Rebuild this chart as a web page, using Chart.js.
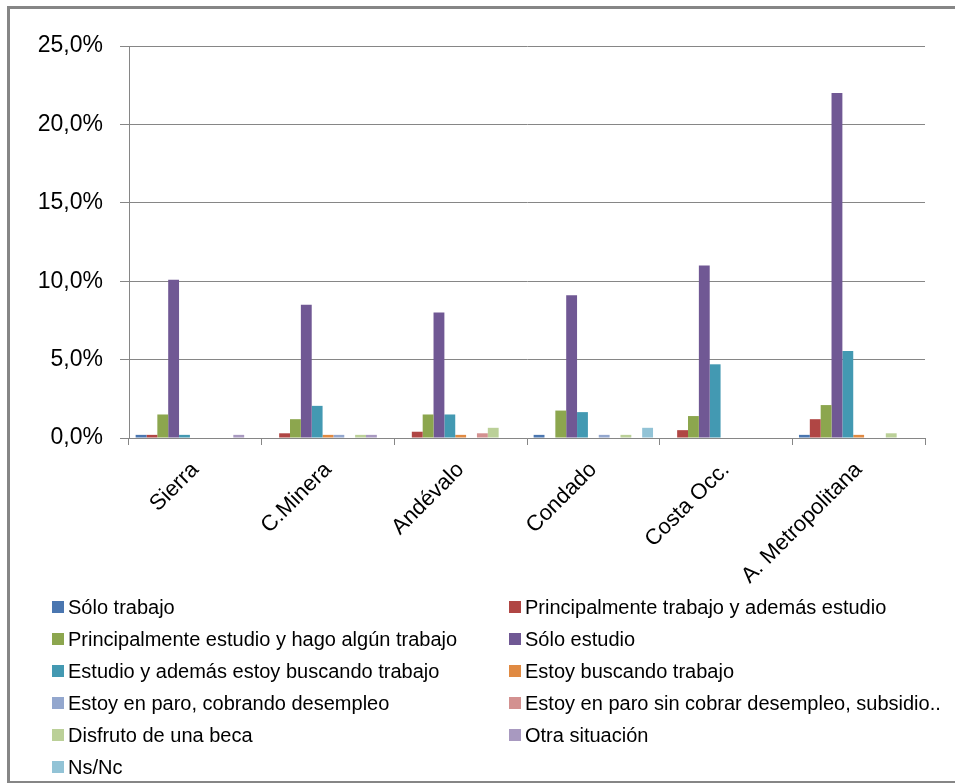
<!DOCTYPE html>
<html>
<head>
<meta charset="utf-8">
<script src="https://cdn.jsdelivr.net/npm/chart.js@4.4.1/dist/chart.umd.min.js"></script>
<style>
  html, body { margin: 0; padding: 0; background: #fff; }
  #wrap { position: relative; width: 955px; height: 783px; overflow: hidden; background: #fff; }
  #frame {
    position: absolute; left: 7px; top: 6px; width: 960px; height: 772px;
    border: 3px solid #868686; box-sizing: content-box;
  }
  #chart { position: absolute; left: 0; top: 0; }
  #legend {
    position: absolute; left: 52px; top: 595px;
    display: grid; grid-template-columns: 457px 420px; grid-auto-rows: 32px;
    font-family: "Liberation Sans", sans-serif;
    font-size: 20px; color: #000;
  }
  .item { display: flex; align-items: center; height: 24px; white-space: nowrap; }
  .box { width: 12px; height: 12px; margin-right: 4px; flex: none; }
</style>
</head>
<body>
<div id="wrap">
  <div id="frame"></div>
  <canvas id="chart" width="955" height="783"></canvas>
  <div id="legend"></div>
</div>
<script>
/* =========================
   DATA (% of respondents)
========================= */
const zones = ["Sierra", "C.Minera", "Andévalo", "Condado", "Costa Occ.", "A. Metropolitana"];

const soloTrabajo        = [0.2, 0.0, 0.0, 0.2, 0.0, 0.2];
const trabajoYEstudio    = [0.2, 0.3, 0.4, 0.0, 0.5, 1.2];
const estudioYTrabajo    = [1.5, 1.2, 1.5, 1.75, 1.4, 2.1];
const soloEstudio        = [10.1, 8.5, 8.0, 9.1, 11.0, 22.0];
const estudioBuscando    = [0.2, 2.05, 1.5, 1.65, 4.7, 5.55];
const buscandoTrabajo    = [0.0, 0.2, 0.2, 0.0, 0.0, 0.2];
const paroCobrando       = [0.0, 0.2, 0.0, 0.2, 0.0, 0.0];
const paroSinCobrar      = [0.0, 0.0, 0.3, 0.0, 0.0, 0.0];
const beca               = [0.0, 0.2, 0.65, 0.2, 0.0, 0.3];
const otraSituacion      = [0.2, 0.2, 0.0, 0.0, 0.0, 0.0];
const nsNc               = [0.0, 0.0, 0.0, 0.65, 0.0, 0.0];

const seriesNames = [
  "Sólo trabajo",
  "Principalmente trabajo y además estudio",
  "Principalmente estudio y hago algún trabajo",
  "Sólo estudio",
  "Estudio y además estoy buscando trabajo",
  "Estoy buscando trabajo",
  "Estoy en paro, cobrando desempleo",
  "Estoy en paro sin cobrar desempleo, subsidio..",
  "Disfruto de una beca",
  "Otra situación",
  "Ns/Nc"
];
const seriesValues = [
  soloTrabajo, trabajoYEstudio, estudioYTrabajo, soloEstudio, estudioBuscando,
  buscandoTrabajo, paroCobrando, paroSinCobrar, beca, otraSituacion, nsNc
];
const seriesColors = [
  "#4A76B0", "#B04644", "#8CA64E", "#705894", "#4399B2", "#E08A42",
  "#93A7CE", "#D39190", "#BBD098", "#A899C0", "#92C3D6"
];

const yTicks = [0, 5, 10, 15, 20, 25];

/* =========================
   CHART
========================= */
const AXIS_GREY = "#868686";

new Chart(document.getElementById("chart"), {
  type: "bar",
  data: {
    labels: zones,
    datasets: seriesNames.map((name, i) => ({
      label: name,
      data: seriesValues[i],
      backgroundColor: seriesColors[i],
      borderWidth: 0,
      categoryPercentage: 0.9,
      barPercentage: 1.0
    }))
  },
  options: {
    responsive: false,
    animation: false,
    layout: { padding: { top: 46, right: 30, left: 0, bottom: 0 } },
    plugins: {
      legend: { display: false },
      tooltip: { enabled: false }
    },
    scales: {
      x: {
        grid: { drawOnChartArea: false, color: AXIS_GREY, tickLength: 7, offset: true },
        border: { color: AXIS_GREY },
        ticks: {
          color: "#000",
          font: { family: "Liberation Sans", size: 22 },
          minRotation: 45,
          maxRotation: 45,
          padding: 12
        },
        afterFit: scale => { scale.height = 345; }
      },
      y: {
        min: yTicks[0],
        max: yTicks[yTicks.length - 1],
        afterBuildTicks: scale => { scale.ticks = yTicks.map(v => ({ value: v })); },
        grid: { color: AXIS_GREY, tickLength: 9 },
        border: { color: AXIS_GREY },
        ticks: {
          color: "#000",
          font: { family: "Liberation Sans", size: 23 },
          padding: 17,
          callback: v => v.toFixed(1).replace(".", ",") + "%"
        },
        afterFit: scale => { scale.width = 129; }
      }
    }
  }
});

/* =========================
   LEGEND (two columns)
========================= */
const legend = document.getElementById("legend");
seriesNames.forEach((name, i) => {
  const item = document.createElement("div");
  item.className = "item";
  item.innerHTML = `<span class="box" style="background:${seriesColors[i]}"></span><span>${name}</span>`;
  legend.appendChild(item);
});
</script>
</body>
</html>
